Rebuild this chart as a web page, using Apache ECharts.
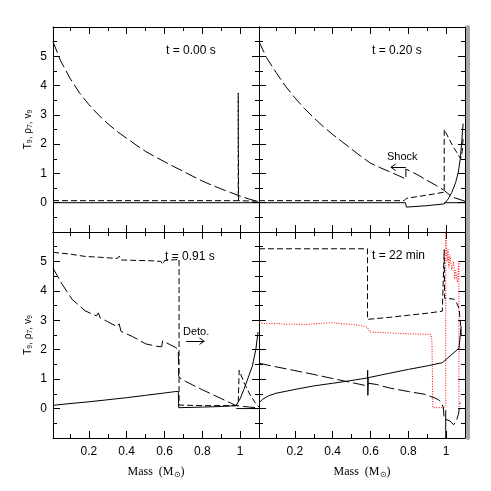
<!DOCTYPE html>
<html>
<head>
<meta charset="utf-8">
<script src="https://cdn.jsdelivr.net/npm/echarts@6/dist/echarts.min.js"></script>
<style>
html, body { margin: 0; padding: 0; background: #fff; }
#chart { width: 491px; height: 491px; }
</style>
</head>
<body>
<div id="chart"></div>
<script>
// axis ranges and tick labels
var xRange = [0.01, 1.1];
var yRange = [-1, 6];
var panelTitles = ['t = 0.00 s', 't = 0.20 s', 't = 0.91 s', 't = 22 min'];

// panel 1 : t = 0.00 s
var p1Temp = [[0.01, 0.0], [1.1, 0.0]];
var p1Dens = [[0.01, 5.5], [0.05, 4.85], [0.1, 4.25], [0.15, 3.75], [0.2, 3.35], [0.25, 3.0], [0.3, 2.7],
	[0.35, 2.43], [0.4, 2.2], [0.45, 1.97], [0.5, 1.75], [0.55, 1.57], [0.6, 1.4], [0.65, 1.23], [0.7, 1.07],
	[0.75, 0.9], [0.8, 0.74], [0.85, 0.6], [0.9, 0.47], [0.95, 0.35], [0.99, 0.25], [1.05, 0.12], [1.1, 0.03]];
var p1Vel = [[0.01, 0.07], [0.99, 0.07], [0.99, 3.75], [0.992, 0.07], [1.1, 0.05]];

// panel 2 : t = 0.20 s
var p2Temp = [[0.01, 0.0], [0.785, 0.0], [0.79, -0.15], [0.9, -0.1], [0.99, -0.04], [1.01, 0.12], [1.03, 0.35],
	[1.05, 0.68], [1.065, 1.05], [1.075, 1.5], [1.083, 2.1], [1.09, 2.7]];
var p2Zero = [[0.99, 0.0], [1.1, 0.0]];
var p2Dens = [[0.01, 5.5], [0.05, 4.95], [0.1, 4.45], [0.15, 3.98], [0.2, 3.58], [0.25, 3.22], [0.3, 2.9],
	[0.35, 2.6], [0.4, 2.33], [0.45, 2.08], [0.5, 1.83], [0.55, 1.58], [0.6, 1.35], [0.65, 1.2], [0.7, 1.06],
	[0.75, 0.92], [0.787, 0.81], [0.787, 1.15], [0.85, 0.95], [0.9, 0.76], [0.95, 0.58], [0.99, 0.42],
	[1.03, 0.2], [1.1, 0.05]];
var p2Vel = [[0.01, 0.07], [0.778, 0.07], [0.79, 0.15], [0.9, 0.26], [0.99, 0.36], [0.99, 2.5], [1.03, 2.0],
	[1.077, 1.5], [1.085, 1.75], [1.09, 2.2]];
var shockArrow = [[0.787, 1.21], [0.708, 1.21]];

// panel 3 : t = 0.91 s
var p3Temp = [[0.01, 0.11], [0.1, 0.17], [0.2, 0.23], [0.3, 0.3], [0.4, 0.37], [0.5, 0.45], [0.6, 0.53],
	[0.66, 0.58], [0.673, 0.58], [0.675, 0.03], [0.8, 0.05], [0.9, 0.07], [0.978, 0.1], [1.0, 0.33],
	[1.02, 0.65], [1.04, 1.0], [1.065, 1.45], [1.083, 2.0], [1.095, 2.6]];
var p3Zero = [[0.98, 0.0], [1.1, 0.0]];
var p3Dens = [[0.01, 4.77], [0.06, 4.21], [0.11, 3.72], [0.18, 3.32], [0.24, 3.15], [0.25, 3.25], [0.26, 3.08],
	[0.3, 2.95], [0.35, 2.78], [0.36, 2.88], [0.37, 2.62], [0.43, 2.45], [0.5, 2.2], [0.556, 2.12], [0.585, 2.1],
	[0.59, 2.3], [0.6, 2.26], [0.63, 2.17], [0.66, 2.07], [0.673, 2.0], [0.675, 1.1], [0.69, 0.99], [0.75, 0.8],
	[0.8, 0.64], [0.85, 0.49], [0.9, 0.34], [0.95, 0.19], [0.978, 0.1], [1.05, 0.05], [1.1, 0.02]];
var p3Vel = [[0.01, 5.31], [0.1, 5.25], [0.18, 5.17], [0.26, 5.14], [0.35, 5.1], [0.36, 5.18], [0.37, 5.05],
	[0.42, 5.04], [0.54, 5.02], [0.58, 5.0], [0.59, 4.9], [0.6, 5.03], [0.66, 5.06], [0.677, 5.08], [0.677, 0.12],
	[0.8, 0.1], [0.978, 0.1], [0.99, 0.12], [0.995, 1.3], [1.02, 0.9], [1.05, 0.5], [1.08, 0.2], [1.1, 0.05]];
var detoArrow = [[0.714, 2.29], [0.81, 2.29]];

// panel 4 : t = 22 min
var p4Temp = [[0.01, 0.2], [0.03, 0.32], [0.06, 0.43], [0.1, 0.52], [0.2, 0.65], [0.3, 0.77], [0.4, 0.86],
	[0.466, 0.92], [0.584, 1.04], [0.585, 1.3], [0.586, 0.45], [0.588, 1.05], [0.7, 1.2], [0.8, 1.33],
	[0.9, 1.45], [0.98, 1.56], [1.068, 2.05], [1.075, 2.1], [1.08, 2.8]];
var p4Spike = [[0.998, -0.05], [0.998, -1.0]];
var p4Dens = [[0.01, 1.54], [0.1, 1.42], [0.2, 1.29], [0.3, 1.16], [0.4, 1.02], [0.466, 0.93], [0.584, 0.77],
	[0.59, 0.86], [0.63, 0.82], [0.7, 0.7], [0.8, 0.58], [0.883, 0.49], [0.936, 0.37], [0.96, 0.3], [0.975, 0.2],
	[0.985, 0.05], [0.99, -0.35], [1.0, -0.4], [1.02, -0.42], [1.04, -0.55], [1.055, -0.4], [1.065, -0.2],
	[1.075, 0.2]];
var p4Vel = [[0.01, 5.43], [0.584, 5.43], [0.584, 3.03], [0.7, 3.1], [0.8, 3.17], [0.9, 3.24], [0.98, 3.31],
	[0.99, 3.35], [0.99, 5.4], [0.992, 3.75], [1.04, 3.72], [1.055, 3.6], [1.068, 3.41], [1.075, 3.0], [1.08, 2.5]];
var p4Red = [[0.01, 2.92], [0.05, 2.88], [0.1, 2.9], [0.15, 2.86], [0.2, 2.87], [0.25, 2.85], [0.3, 2.88],
	[0.35, 2.9], [0.4, 2.92], [0.45, 2.88], [0.5, 2.86], [0.55, 2.82], [0.584, 2.76], [0.595, 2.6], [0.7, 2.57],
	[0.8, 2.54], [0.92, 2.52], [0.925, 2.3], [0.93, 0.03], [0.99, 0.03], [0.998, 0.1], [0.998, 6.3], [1.0, 5.6],
	[1.005, 5.0], [1.01, 5.4], [1.015, 4.8], [1.02, 5.2], [1.03, 4.7], [1.04, 5.0], [1.045, 4.4], [1.05, 4.7],
	[1.06, 4.3], [1.068, 5.0], [1.068, 0.0]];

var SANS = '"Liberation Sans", Arial, sans-serif';
var SERIF = '"Liberation Serif", "Times New Roman", serif';
var LONG = [12, 4];
var SHORT = [6, 3];

var grids = [
	{left: 53, top: 27, width: 206, height: 205},
	{left: 259, top: 27, width: 206, height: 205},
	{left: 53, top: 232, width: 206, height: 206},
	{left: 259, top: 232, width: 206, height: 206}
];

function tickAxis(opt) {
	return Object.assign({
		type: 'value',
		axisLine: {show: true, onZero: false, lineStyle: {color: '#000', width: 1}},
		axisTick: {show: true, inside: true, length: 7, lineStyle: {color: '#000', width: 1}},
		minorTick: {show: true, splitNumber: 2, length: 4, lineStyle: {color: '#000', width: 1}},
		splitLine: {show: false},
		axisLabel: {show: false}
	}, opt);
}

var xAxes = [], yAxes = [];
for (var g = 0; g < 4; g++) {
	var bottomRow = g >= 2, leftCol = g % 2 == 0;
	xAxes.push(tickAxis({
		gridIndex: g, position: 'bottom', min: xRange[0], max: xRange[1], minInterval: 0.2, maxInterval: 0.2,
		axisLabel: {show: bottomRow, showMinLabel: false, showMaxLabel: false, color: '#000', fontSize: 12,
			fontFamily: SANS, margin: 8},
		name: bottomRow ? 'Mass  (M{s|\u2299})' : '',
		nameLocation: 'middle', nameGap: 27,
		nameTextStyle: {color: '#000', fontSize: 12, fontFamily: SERIF,
			rich: {s: {fontSize: 8, fontFamily: SERIF, verticalAlign: 'bottom', padding: [6, 0, 0, 0]}}}
	}));
	xAxes.push(tickAxis({gridIndex: g, position: 'top', min: xRange[0], max: xRange[1], minInterval: 0.2, maxInterval: 0.2}));
	yAxes.push(tickAxis({
		gridIndex: g, position: 'left', min: yRange[0], max: yRange[1], interval: 1,
		axisLabel: {show: leftCol, showMinLabel: false, showMaxLabel: false, color: '#000', fontSize: 12,
			fontFamily: SANS, margin: 6},
		name: leftCol ? 'T{s|9}, \u03c1{s|7}, v{s|9}' : '',
		nameLocation: 'middle', nameGap: 19, nameRotate: 90,
		nameTextStyle: {color: '#000', fontSize: 10, fontFamily: SANS,
			rich: {s: {fontSize: 7, fontFamily: SANS, verticalAlign: 'bottom', padding: [5, 0, 0, 0]}}}
	}));
	yAxes.push(tickAxis({gridIndex: g, position: 'right', min: yRange[0], max: yRange[1], interval: 1}));
}
// grey band along the outer right frame of the right-hand panels
[1, 3].forEach(function(g) {
	yAxes.push({
		type: 'value', gridIndex: g, position: 'right', offset: 3, min: yRange[0], max: yRange[1],
		axisLine: {show: true, onZero: false, lineStyle: {color: '#a8a8a8', width: 4}},
		axisTick: {show: false}, axisLabel: {show: false}, splitLine: {show: false}
	});
});

function line(g, data, dash, color, extra) {
	return Object.assign({
		type: 'line', xAxisIndex: 2 * g, yAxisIndex: 2 * g, data: data,
		symbol: 'none', showSymbol: false, silent: true, clip: true, animation: false,
		lineStyle: {color: color || '#000', width: 1, type: dash || 'solid'}
	}, extra || {});
}

// arrow drawn as shaft + two head strokes, in data units of the panel
function arrowLines(a, headX, headY) {
	var tip = a[1], dir = a[1][0] > a[0][0] ? -1 : 1;
	var back = tip[0] + dir * headX;
	return {
		silent: true, symbol: ['none', 'none'], label: {show: false},
		lineStyle: {color: '#000', width: 1, type: 'solid'}, animation: false,
		data: [
			[{coord: a[0]}, {coord: tip}],
			[{coord: tip}, {coord: [back, tip[1] + headY]}],
			[{coord: tip}, {coord: [back, tip[1] - headY]}]
		]
	};
}

var series = [
	line(0, p1Temp), line(0, p1Dens, LONG), line(0, p1Vel, SHORT),
	line(1, p2Temp), line(1, p2Zero), line(1, p2Dens, LONG, null, {markLine: arrowLines(shockArrow, 0.025, 0.11)}),
	line(1, p2Vel, SHORT),
	line(2, p3Temp), line(2, p3Zero), line(2, p3Dens, LONG, null, {markLine: arrowLines(detoArrow, 0.025, 0.11)}),
	line(2, p3Vel, SHORT),
	line(3, p4Red, [1, 1.5], '#ff0000'),
	line(3, p4Temp), line(3, p4Spike), line(3, p4Dens, LONG), line(3, p4Vel, SHORT)
];

function label(text, x, y, size) {
	return {type: 'text', left: x, top: y, silent: true,
		style: {text: text, fill: '#000', fontSize: size || 12, fontFamily: SANS}};
}

var myChart = echarts.init(document.getElementById('chart'));
var option = {
	backgroundColor: '#fff',
	animation: false,
	grid: grids,
	xAxis: xAxes,
	yAxis: yAxes,
	series: series,
	graphic: [
		label(panelTitles[0], 166, 45),
		label(panelTitles[1], 372, 45),
		label(panelTitles[2], 165, 251),
		label(panelTitles[3], 372, 250),
		label('Shock', 387, 151, 11),
		label('Deto.', 183, 326, 11)
	]
};
myChart.setOption(option);
</script>
</body>
</html>
